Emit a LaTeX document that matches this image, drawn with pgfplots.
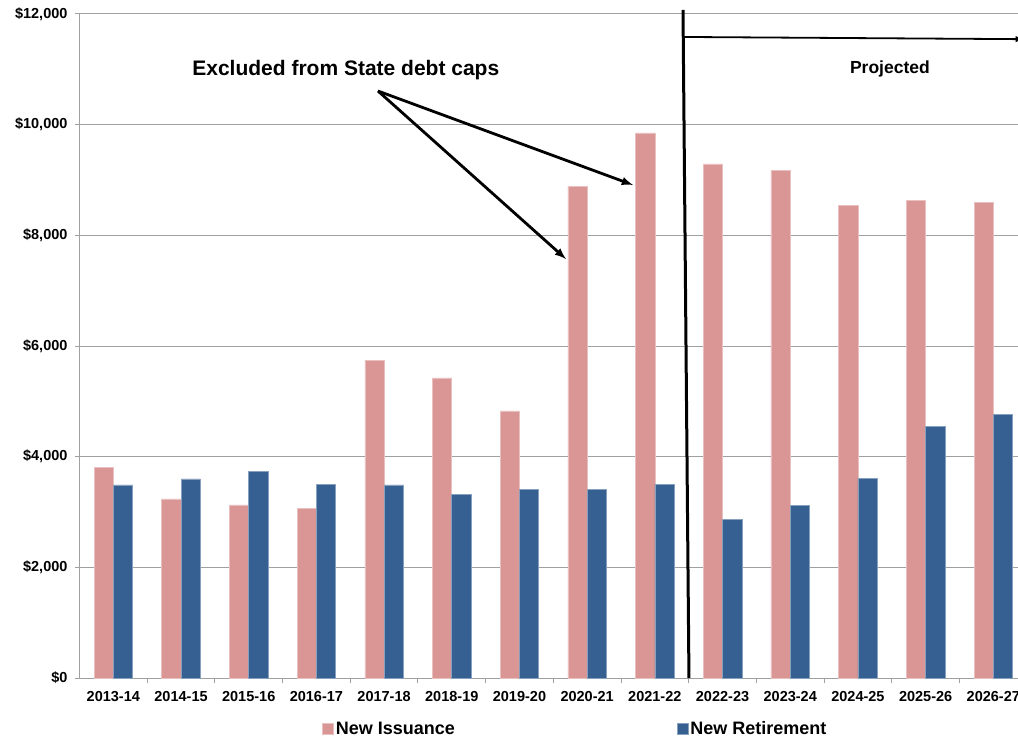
\documentclass[border=0pt]{standalone}
\usepackage{pgfplots}
\pgfplotsset{compat=1.18}
\usepackage{fontspec}
\setmainfont{Liberation Sans}
\definecolor{pinkbar}{HTML}{D99694}
\definecolor{bluebar}{HTML}{376092}
\definecolor{gridgray}{HTML}{A0A0A0}
\begin{document}
\begin{tikzpicture}
\useasboundingbox (0,0) rectangle (1018pt,740pt);
\begin{axis}[
  at={(79.5pt,62pt)}, anchor=south west,
  scale only axis, width=938.5pt, height=664pt,
  ymin=0, ymax=12000, xmin=-0.5, xmax=13.365,
  ybar=0pt, bar width=0.285,
  axis x line*=bottom, axis y line*=left,
  axis line style={draw=gridgray, line width=1pt, -},
  ytick={0,2000,4000,6000,8000,10000,12000},
  yticklabels={{\$0},{\$2,000},{\$4,000},{\$6,000},{\$8,000},{\$10,000},{\$12,000}},
  ymajorgrids, grid style={draw=gridgray, line width=1pt},
  xtick={0,...,13},
  xticklabels={2013-14,2014-15,2015-16,2016-17,2017-18,2018-19,2019-20,2020-21,2021-22,2022-23,2023-24,2024-25,2025-26,2026-27},
  major x tick style={draw=none},
  minor xtick={0.5,1.5,...,12.5},
  minor x tick style={draw=gridgray, line width=1pt},
  major y tick style={draw=gridgray, line width=1pt},
  tick align=outside, major tick length=5pt, minor tick length=5pt,
  xticklabel style={font=\fontsize{14.5}{17}\selectfont\bfseries, yshift=-4.5pt},
  yticklabel style={font=\fontsize{14.5}{17}\selectfont\bfseries, xshift=-3.5pt},
  clip=false,
  legend columns=2,
  legend style={at={(0.2584,-0.0768)}, anchor=west, draw=none, fill=none, inner sep=0pt,
    font=\fontsize{18}{21}\selectfont\bfseries,
    /tikz/every even column/.append style={column sep=220pt},
    nodes={inner sep=2pt}},
  legend image code/.code={\fill[#1] (0pt,-5.5pt) rectangle (11pt,5.5pt);},
]
\addplot[fill=pinkbar, draw=pinkbar!60!white, line width=0.6pt] coordinates {
(0,3810) (1,3235) (2,3127) (3,3060) (4,5742) (5,5422) (6,4826) (7,8886) (8,9850) (9,9290) (10,9175) (11,8537) (12,8627) (13,8597)};
\addplot[fill=bluebar, draw=bluebar!60!white, line width=0.6pt] coordinates {
(0,3490) (1,3597) (2,3729) (3,3494) (4,3488) (5,3313) (6,3404) (7,3404) (8,3500) (9,2868) (10,3121) (11,3609) (12,4549) (13,4771)};
\legend{New Issuance, New Retirement}
\draw[black, line width=3pt] (axis cs:8.416,12073) -- (axis cs:8.504,0);
\draw[black, line width=1.8pt, -latex] (axis cs:8.416,11585) -- (axis cs:13.45,11545);
\node[font=\fontsize{17.5}{20}\selectfont\bfseries] at (axis cs:11.473,11006) {Projected};
\node[font=\fontsize{21}{24}\selectfont\bfseries] at (axis cs:3.434,10988) {Excluded from State debt caps};
\draw[black, line width=2.8pt, -latex] (axis cs:3.910,10608) -- (axis cs:6.687,7572);
\draw[black, line width=2.8pt, -latex] (axis cs:3.910,10608) -- (axis cs:7.677,8910);
\end{axis}
\end{tikzpicture}
\end{document}
